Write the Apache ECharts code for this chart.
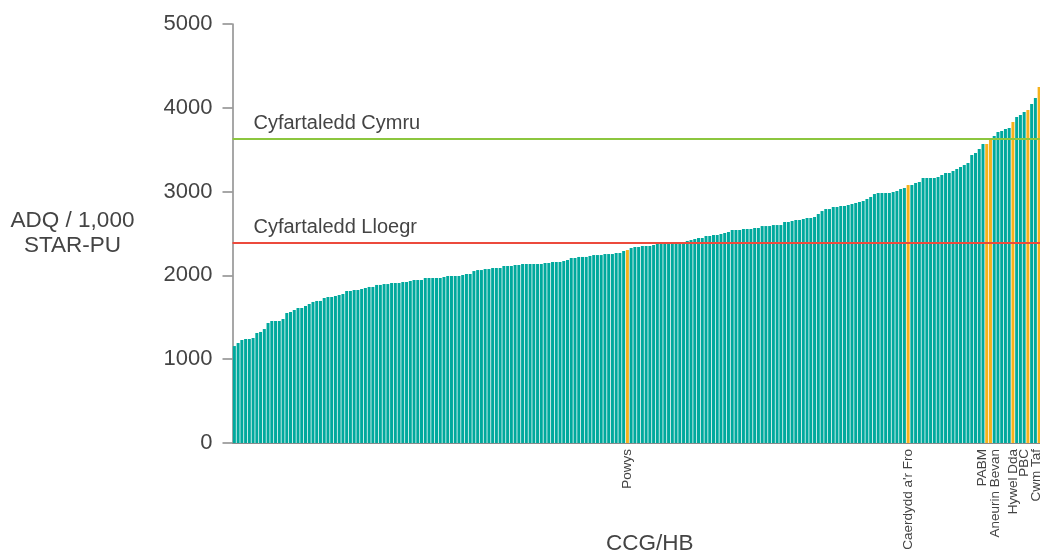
<!DOCTYPE html>
<html>
<head>
<meta charset="utf-8">
<script src="https://cdn.jsdelivr.net/npm/echarts@6/dist/echarts.min.js"></script>
<style>
html,body{margin:0;padding:0;background:#fff;}
#chart{width:1040px;height:553px;}
</style>
</head>
<body>
<div id="chart"></div>
<script>
// ADQ per 1,000 STAR-PU, sorted ascending (English CCGs + Welsh health boards)
const values = [
1157,1193,1229,1241,1241,1253,1313,1325,1360,1432,
1456,1456,1456,1480,1551,1563,1587,1611,1611,1635,
1659,1683,1695,1695,1730,1742,1742,1754,1766,1778,
1814,1814,1826,1826,1838,1850,1862,1862,1886,1886,
1897,1897,1909,1909,1909,1921,1921,1933,1945,1945,
1945,1969,1969,1969,1969,1969,1981,1993,1993,1993,
1993,2005,2017,2017,2052,2064,2064,2076,2076,2088,
2088,2088,2112,2112,2112,2124,2124,2136,2136,2136,
2136,2136,2136,2148,2148,2160,2160,2160,2172,2184,
2208,2208,2220,2220,2220,2232,2243,2243,2243,2255,
2255,2255,2267,2267,2291,2303,2327,2339,2339,2351,
2351,2351,2363,2375,2375,2387,2387,2390,2390,2392,
2395,2411,2422,2434,2446,2446,2470,2470,2482,2482,
2494,2506,2518,2542,2542,2542,2554,2554,2554,2566,
2566,2589,2589,2589,2601,2601,2601,2637,2637,2649,
2661,2661,2673,2685,2685,2697,2733,2768,2792,2792,
2816,2816,2828,2828,2840,2852,2864,2876,2888,2912,
2936,2971,2983,2983,2983,2983,2995,3007,3031,3043,
3079,3079,3103,3115,3162,3162,3162,3162,3174,3198,
3222,3222,3246,3270,3294,3317,3341,3437,3461,3508,
3568,3568,3640,3663,3711,3723,3747,3759,3831,3890,
3914,3950,3974,4045,4117,4248
];
// Welsh health boards and their (1-based) rank positions
const welshBoards = ['Powys', "Caerdydd a'r Fro", 'PABM', 'Aneurin Bevan', 'Hywel Dda', 'PBC', 'Cwm Taf'];
const welshRanks  = [106, 181, 202, 203, 209, 213, 216];
const yTicks = [0, 1000, 2000, 3000, 4000, 5000];
const walesAverage = 3630;
const englandAverage = 2395;

const categories = values.map((v, i) => {
  const k = welshRanks.indexOf(i + 1);
  return k >= 0 ? welshBoards[k] : '';
});

const TEAL = '#00A99D', ORANGE = '#F6B21C', GREEN = '#8CC63F', RED = '#EC4A3C';
const TXT = '#444444', AX = '#8a8a8a';
const FONT = '"Liberation Sans", Arial, sans-serif';

// small sideways nudges for crowded labels (rich text keys)
const labelKey = {'PABM':'l4','Aneurin Bevan':'r5','PBC':'l4','Cwm Taf':'l3'};

const chart = echarts.init(document.getElementById('chart'), null, {renderer:'canvas'});
chart.setOption({
  animation: false,
  textStyle: {fontFamily: FONT},
  grid: {left: 232.5, top: 24, width: 808.5, height: 419, containLabel: false, outerBoundsMode: 'none'},
  xAxis: {
    type: 'category',
    data: categories,
    name: 'CCG/HB',
    nameLocation: 'middle',
    nameGap: 89,
    nameMoveOverlap: false,
    nameTextStyle: {fontSize: 22.5, color: TXT, fontFamily: FONT, padding: [0,0,0,26]},
    axisLine: {show: true, lineStyle: {color: AX, width: 1}},
    axisTick: {show: false},
    axisLabel: {
      interval: 0, rotate: 90, margin: 6, fontSize: 13.5, color: TXT, fontFamily: FONT,
      hideOverlap: false,
      formatter: function (v) {
        if (!v) return '';
        const k = labelKey[v];
        return k ? '{' + k + '|' + v + '}' : v;
      },
      rich: {
        l4: {fontSize: 13.5, color: TXT, fontFamily: FONT, padding: [0,0,8,0]},
        l3: {fontSize: 13.5, color: TXT, fontFamily: FONT, padding: [0,0,6,0]},
        r5: {fontSize: 13.5, color: TXT, fontFamily: FONT, padding: [10,0,0,0]}
      }
    },
    splitLine: {show: false}
  },
  yAxis: {
    type: 'value',
    min: yTicks[0], max: yTicks[yTicks.length - 1], interval: 1000,
    name: 'ADQ / 1,000\nSTAR-PU',
    nameLocation: 'middle',
    nameRotate: 0,
    nameGap: 160,
    nameMoveOverlap: false,
    nameTextStyle: {fontSize: 22.5, color: TXT, fontFamily: FONT, align: 'center', verticalAlign: 'middle', lineHeight: 25},
    axisLine: {show: true, lineStyle: {color: AX, width: 1.5}},
    axisTick: {show: true, length: 10, lineStyle: {color: AX, width: 1.5}},
    axisLabel: {fontSize: 22, color: TXT, fontFamily: FONT, margin: 20, formatter: function (v) { return String(v); }},
    splitLine: {show: false}
  },
  series: [{
    type: 'bar',
    barCategoryGap: '20%',
    data: values.map((v, i) => ({value: v, itemStyle: {color: categories[i] ? ORANGE : TEAL}})),
    markLine: {
      silent: true,
      symbol: 'none',
      animation: false,
      label: {show: true, position: 'insideStartTop', formatter: '{b}', fontSize: 20, color: TXT, fontFamily: FONT, distance: [21, 5]},
      data: [
        {name: 'Cyfartaledd Cymru', yAxis: walesAverage, lineStyle: {color: GREEN, width: 2, type: 'solid'}},
        {name: 'Cyfartaledd Lloegr', yAxis: englandAverage, lineStyle: {color: RED, width: 2, type: 'solid'}}
      ]
    }
  }]
});
</script>
</body>
</html>
